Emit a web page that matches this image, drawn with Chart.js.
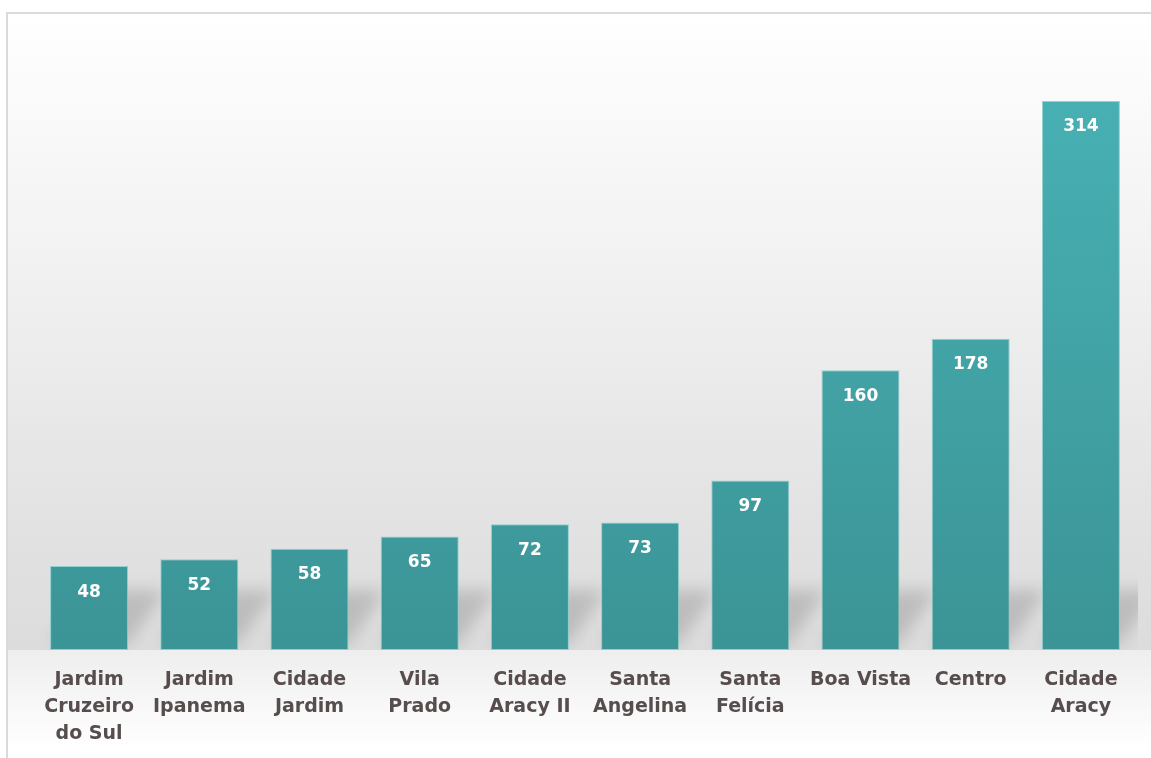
<!DOCTYPE html>
<html lang="pt">
<head>
  <meta charset="UTF-8">
  <title>Bairros</title>
  <script src="https://cdn.jsdelivr.net/npm/chart.js"></script>
  <style>
    html, body {
      margin: 0;
      padding: 0;
      background: #ffffff;
    }
    #wrap {
      width: 1151px;
      height: 758px;
      position: relative;
    }
  </style>
</head>
<body>
  <div id="wrap">
    <canvas id="bairros"></canvas>
  </div>

  <script>
    const bairros = [
      ["Jardim", "Cruzeiro", "do Sul"],
      ["Jardim", "Ipanema"],
      ["Cidade", "Jardim"],
      ["Vila", "Prado"],
      ["Cidade", "Aracy II"],
      ["Santa", "Angelina"],
      ["Santa", "Felícia"],
      "Boa Vista",
      "Centro",
      ["Cidade", "Aracy"]
    ];
    const totais = [48, 52, 58, 65, 72, 73, 97, 160, 178, 314];

    // wall / floor backdrop with the thin frame at top and left
    const fundo = {
      id: "fundo",
      beforeDraw(chart) {
        const { ctx, chartArea, width, height } = chart;
        const base = chartArea.bottom;
        ctx.save();
        ctx.fillStyle = "#ffffff";
        ctx.fillRect(0, 0, width, height);

        const parede = ctx.createLinearGradient(0, 14, 0, base);
        parede.addColorStop(0, "#ffffff");
        parede.addColorStop(0.35, "#f3f3f3");
        parede.addColorStop(0.75, "#e4e4e4");
        parede.addColorStop(1, "#dcdcdc");
        ctx.fillStyle = parede;
        ctx.fillRect(8, 14, width - 8, base - 14);

        const chao = ctx.createLinearGradient(0, base, 0, height - 10);
        chao.addColorStop(0, "#eeeeee");
        chao.addColorStop(1, "#ffffff");
        ctx.fillStyle = chao;
        ctx.fillRect(8, base, width - 8, height - base);

        ctx.fillStyle = "#dadada";
        ctx.fillRect(6, 12, width - 6, 2);
        ctx.fillRect(6, 12, 2, height - 12);
        ctx.restore();
      },
      beforeDatasetsDraw(chart) {
        const { ctx, chartArea } = chart;
        const bars = chart.getDatasetMeta(0).data;
        ctx.save();
        ctx.beginPath();
        ctx.rect(chartArea.left, 14, chartArea.right + 2 - chartArea.left, chartArea.bottom - 14);
        ctx.clip();
        ctx.filter = "blur(8px)";
        ctx.fillStyle = "rgba(0,0,0,0.15)";
        bars.forEach(bar => {
          const w = bar.width / 2;
          const b = bar.base;
          ctx.beginPath();
          ctx.moveTo(bar.x - w, b - 6);
          ctx.lineTo(bar.x + w, b - 6);
          ctx.lineTo(bar.x + w + 38, b - 60);
          ctx.lineTo(bar.x - w + 38, b - 60);
          ctx.closePath();
          ctx.fill();
        });
        ctx.restore();
      },
      afterDatasetsDraw(chart) {
        const { ctx } = chart;
        const bars = chart.getDatasetMeta(0).data;
        ctx.save();
        ctx.fillStyle = "#ffffff";
        ctx.font = "bold 17px 'DejaVu Sans'";
        ctx.textAlign = "center";
        ctx.textBaseline = "middle";
        bars.forEach((bar, i) => {
          ctx.fillText(String(totais[i]), bar.x, bar.y + 26);
        });
        ctx.restore();
      }
    };

    const ctx = document.getElementById("bairros").getContext("2d");

    function gradienteBarra(context) {
      const area = context.chart.chartArea;
      if (!area) return "#41a5a7";
      const g = context.chart.ctx.createLinearGradient(0, area.top, 0, area.bottom);
      g.addColorStop(0, "#49b3b6");
      g.addColorStop(1, "#3b9496");
      return g;
    }

    new Chart(ctx, {
      type: "bar",
      data: {
        labels: bairros,
        datasets: [{
          data: totais,
          backgroundColor: gradienteBarra,
          borderColor: "rgba(140,205,205,0.9)",
          borderWidth: 1,
          borderSkipped: false,
          categoryPercentage: 1,
          barPercentage: 0.708
        }]
      },
      options: {
        responsive: true,
        maintainAspectRatio: false,
        animation: false,
        layout: { padding: { left: 34, right: 15, top: 38, bottom: -7 } },
        plugins: {
          legend: { display: false },
          tooltip: { enabled: false }
        },
        scales: {
          x: {
            grid: { display: false, drawTicks: false },
            border: { display: false },
            ticks: {
              padding: 17,
              color: "#574d4d",
              font: { family: "'DejaVu Sans'", size: 19, weight: "bold", lineHeight: 1.42 },
              maxRotation: 0,
              autoSkip: false
            }
          },
          y: {
            display: false,
            min: 0,
            max: 350
          }
        }
      },
      plugins: [fundo]
    });
  </script>
</body>
</html>
